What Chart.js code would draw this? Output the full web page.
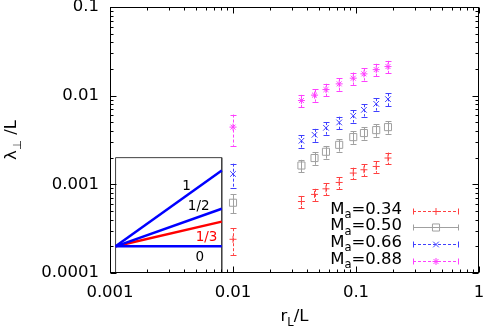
<!DOCTYPE html>
<html>
<head>
<meta charset="utf-8">
<script src="https://cdn.jsdelivr.net/npm/chart.js@4.4.1/dist/chart.umd.min.js"></script>
<style>
  html, body { margin: 0; padding: 0; background: #fff; }
  #wrap { width: 487px; height: 327px; }
</style>
</head>
<body>
<div id="wrap"><canvas id="chart" width="487" height="327"></canvas></div>
<script>
// ----- data -----
const rL = [0.01, 0.036, 0.046, 0.057, 0.073, 0.095, 0.116, 0.146, 0.182];

const lam034 = [0.00024, 0.00064, 0.00077, 0.00089, 0.00105, 0.00134, 0.00146, 0.00159, 0.00198];
const err034 = [0.00008, 0.0001, 0.00012, 0.00014, 0.00016, 0.0002, 0.00022, 0.00024, 0.0003];
const lam050 = [0.00062, 0.00163, 0.00198, 0.00233, 0.00279, 0.00341, 0.00379, 0.00409, 0.00442];
const err050 = [0.00015, 0.00026, 0.00032, 0.00038, 0.00045, 0.00055, 0.0006, 0.00065, 0.0007];
const lam066 = [0.00131, 0.0031, 0.00362, 0.00434, 0.00499, 0.00593, 0.00692, 0.00809, 0.00914];
const err066 = [0.0004, 0.0005, 0.0006, 0.0007, 0.0008, 0.00095, 0.0011, 0.0013, 0.0015];
const lam088 = [0.00442, 0.00881, 0.01014, 0.01172, 0.01359, 0.01575, 0.01762, 0.01968, 0.0213];
const err088 = [0.0017, 0.0014, 0.0016, 0.0019, 0.0022, 0.0025, 0.0028, 0.0032, 0.0034];

const machLabels = ['0.34', '0.50', '0.66', '0.88'];

const xTicks = [0.001, 0.01, 0.1, 1];
const yTicks = [0.0001, 0.001, 0.01, 0.1];

// inset: slope guide lines
const insetX = [0.00111, 0.0081];
const insetTop = 0.002;
const slope0 = [0.0002, 0.0002];
const slope13 = [0.0002, 0.00038];
const slope12 = [0.0002, 0.00053];
const slope1 = [0.0002, 0.00143];
const slopeText = ['0', '1/3', '1/2', '1'];
const slopeTextX = [0.00536, 0.0061, 0.00526, 0.0042];
const slopeTextY = [0.000149, 0.00025, 0.00056, 0.00094];

// ----- styles -----
const FONT = '"DejaVu Sans", sans-serif';
const series = [
  { vals: lam034, errs: err034, color: '#ff4040', dash: [3, 2], style: 'cross', r: 3.5 },
  { vals: lam050, errs: err050, color: '#a0a0a0', dash: [], style: 'rect', r: 5 },
  { vals: lam066, errs: err066, color: '#4040ff', dash: [3, 2], style: 'crossRot', r: 4 },
  { vals: lam088, errs: err088, color: '#ff40ff', dash: [3, 2], style: 'star', r: 3.5 },
];

function pts(xs, ys) {
  return xs.map((x, i) => ({ x: x, y: ys[i] }));
}

function drawParts(ctx, parts, x, y, align) {
  const big = '16.5px ' + FONT, small = '11.5px ' + FONT;
  let w = 0;
  parts.forEach(p => { ctx.font = p.sub ? small : big; w += ctx.measureText(p.t).width; });
  let cx = align === 'right' ? x - w : align === 'center' ? x - w / 2 : x;
  ctx.textAlign = 'left';
  ctx.textBaseline = 'alphabetic';
  parts.forEach(p => {
    ctx.font = p.sub ? small : big;
    ctx.fillText(p.t, cx, p.sub ? y + 4.5 : y);
    cx += ctx.measureText(p.t).width;
  });
}

const errorBars = {
  id: 'errorBars',
  beforeDatasetsDraw(chart) {
    const ctx = chart.ctx, xs = chart.scales.x, ys = chart.scales.y;
    ctx.save();
    ctx.lineWidth = 1;
    series.forEach(s => {
      ctx.strokeStyle = s.color;
      s.vals.forEach((v, i) => {
        const px = Math.round(xs.getPixelForValue(rL[i])) + 0.5;
        const top = ys.getPixelForValue(v + s.errs[i]);
        const bot = ys.getPixelForValue(v - s.errs[i]);
        ctx.setLineDash(s.dash);
        ctx.beginPath();
        ctx.moveTo(px, top);
        ctx.lineTo(px, bot);
        ctx.stroke();
        ctx.setLineDash([]);
        ctx.beginPath();
        ctx.moveTo(px - 3, Math.round(top) + 0.5);
        ctx.lineTo(px + 3, Math.round(top) + 0.5);
        ctx.moveTo(px - 3, Math.round(bot) + 0.5);
        ctx.lineTo(px + 3, Math.round(bot) + 0.5);
        ctx.stroke();
      });
    });
    ctx.restore();
  }
};

const frame = {
  id: 'frame',
  afterDraw(chart) {
    const ctx = chart.ctx, a = chart.chartArea, xs = chart.scales.x, ys = chart.scales.y;
    ctx.save();
    ctx.strokeStyle = '#000';
    ctx.lineWidth = 1;
    const L = Math.round(a.left) + 0.5, R = Math.round(a.right) - 0.5;
    const T = Math.round(a.top) + 0.5, B = Math.round(a.bottom) - 0.5;
    ctx.strokeRect(L, T, R - L, B - T);
    ctx.beginPath();
    for (let e = -3; e <= 0; e++) {
      for (let k = 1; k <= 9; k++) {
        const v = k * Math.pow(10, e);
        const len = k === 1 ? 6 : 3;
        if (v <= 1.0001) {
          const px = Math.round(xs.getPixelForValue(v)) + 0.5;
          ctx.moveTo(px, B); ctx.lineTo(px, B - len);
          ctx.moveTo(px, T); ctx.lineTo(px, T + len);
        }
        const w = k * Math.pow(10, e - 1);
        if (w <= 0.10001) {
          const py = Math.round(ys.getPixelForValue(w)) + 0.5;
          ctx.moveTo(L, py); ctx.lineTo(L + len, py);
          ctx.moveTo(R, py); ctx.lineTo(R - len, py);
        }
      }
    }
    ctx.stroke();

    // inset labels
    ctx.font = '13.5px ' + FONT;
    ctx.textAlign = 'center';
    ctx.textBaseline = 'middle';
    slopeText.forEach((t, i) => {
      ctx.fillStyle = t === '1/3' ? '#ff0000' : '#000';
      ctx.fillText(t, xs.getPixelForValue(slopeTextX[i]), ys.getPixelForValue(slopeTextY[i]));
    });

    // axis titles
    ctx.fillStyle = '#000';
    drawParts(ctx, [{ t: 'r' }, { t: 'L', sub: true }, { t: '/L' }], (a.left + a.right) / 2, 321, 'center');
    ctx.save();
    ctx.translate(16, (a.top + a.bottom) / 2);
    ctx.rotate(-Math.PI / 2);
    drawParts(ctx, [{ t: 'λ' }, { t: '⊥', sub: true }, { t: ' /L' }], 0, 0, 'center');
    ctx.restore();

    // key
    series.forEach((s, i) => {
      const y = 210.5 + i * 16.7;
      ctx.fillStyle = '#000';
      drawParts(ctx, [{ t: 'M' }, { t: 'a', sub: true }, { t: '=' + machLabels[i] }], 402, y + 3, 'right');
      ctx.strokeStyle = s.color;
      ctx.lineWidth = 1;
      const ly = Math.round(y) + 0.5;
      ctx.setLineDash(s.dash);
      ctx.beginPath();
      ctx.moveTo(413, ly); ctx.lineTo(459, ly);
      ctx.stroke();
      ctx.setLineDash([]);
      ctx.beginPath();
      ctx.moveTo(413.5, ly - 3); ctx.lineTo(413.5, ly + 3);
      ctx.moveTo(458.5, ly - 3); ctx.lineTo(458.5, ly + 3);
      ctx.stroke();
      ctx.fillStyle = 'rgba(0,0,0,0)';
      Chart.helpers.drawPoint(ctx, { pointStyle: s.style, radius: s.r, rotation: 0, borderWidth: 1 }, 436, ly);
    });
    ctx.restore();
  }
};

const datasets = series.map(s => ({
  data: pts(rL, s.vals),
  showLine: false,
  pointStyle: s.style,
  pointRadius: s.r,
  pointBorderColor: s.color,
  pointBackgroundColor: 'rgba(0,0,0,0)',
  pointBorderWidth: 1,
}));

[slope0, slope12, slope1].forEach(sl => {
  datasets.push({ data: pts(insetX, sl), borderColor: '#0000ff', borderWidth: 2.5, pointRadius: 0 });
});
datasets.push({ data: pts(insetX, slope13), borderColor: '#ff0000', borderWidth: 2.5, pointRadius: 0 });
datasets.push({
  data: [
    { x: insetX[0], y: 0.0001 }, { x: insetX[0], y: insetTop },
    { x: insetX[1], y: insetTop }, { x: insetX[1], y: 0.0001 },
  ],
  borderColor: '#404040', borderWidth: 1, pointRadius: 0,
});

new Chart(document.getElementById('chart'), {
  type: 'line',
  data: { datasets: datasets },
  options: {
    responsive: false,
    animation: false,
    layout: { padding: { top: 7, right: 8, left: 0, bottom: 0 } },
    plugins: { legend: { display: false }, tooltip: { enabled: false } },
    scales: {
      x: {
        type: 'logarithmic', min: 0.001, max: 1,
        grid: { display: false, drawTicks: false },
        border: { display: false },
        afterBuildTicks: (sc) => { sc.ticks = xTicks.map(v => ({ value: v })); },
        afterFit: (sc) => { sc.height = 54; sc.paddingLeft = 0; sc.paddingRight = 0; },
        ticks: { color: '#000', font: { family: FONT, size: 16.5 }, padding: 10, maxRotation: 0, autoSkip: false, callback: (v) => String(v) },
      },
      y: {
        type: 'logarithmic', min: 0.0001, max: 0.1,
        grid: { display: false, drawTicks: false },
        border: { display: false },
        afterBuildTicks: (sc) => { sc.ticks = yTicks.map(v => ({ value: v })); },
        afterFit: (sc) => { sc.width = 110; sc.paddingTop = 0; sc.paddingBottom = 0; },
        ticks: { color: '#000', font: { family: FONT, size: 16.5 }, padding: 11, autoSkip: false, callback: (v) => String(v) },
      },
    },
  },
  plugins: [errorBars, frame],
});
</script>
</body>
</html>
